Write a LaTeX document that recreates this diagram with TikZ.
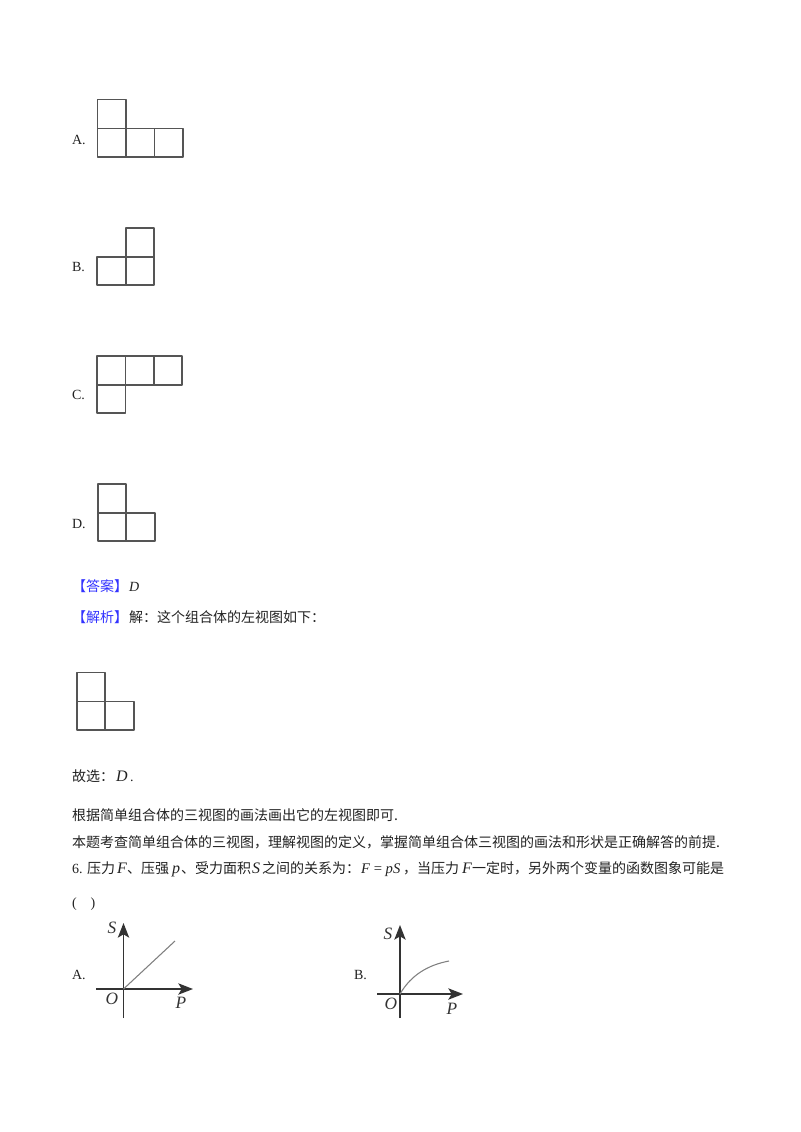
\documentclass[tikz,border=0pt]{standalone}
\usepackage{fontspec}
\setmainfont{Liberation Serif}
\newfontfamily\cjk{Noto Sans CJK SC}
\usetikzlibrary{arrows.meta}
\definecolor{inkgray}{HTML}{555555}
\definecolor{axisink}{HTML}{333333}
\definecolor{anskey}{HTML}{3333FF}
\definecolor{txt}{HTML}{222222}
\tikzset{
  cell/.style={draw=inkgray,line width=1.1pt,line join=round},
  lab/.style={anchor=base west,inner sep=0pt,outer sep=0pt,text=txt,font=\fontsize{10.5pt}{12pt}\selectfont},
  cn/.style={lab,font=\fontsize{10.5pt}{12pt}\selectfont\cjk},
  key/.style={cn,text=anskey},
  var/.style={lab,font=\fontsize{12pt}{14pt}\selectfont\itshape},
  axlab/.style={anchor=center,inner sep=0pt,text=axisink,font=\fontsize{13pt}{15pt}\selectfont\itshape},
  axis/.style={draw=axisink,line width=1.1pt},
  axisarrow/.style={axis,-{Stealth[length=11pt,width=8.5pt,inset=2.5pt]}},
  plotline/.style={draw=gray,line width=0.8pt},
}
\begin{document}
\begin{tikzpicture}[x=0.75pt,y=-0.75pt]
\useasboundingbox[fill=white] (0,0) rectangle (800,1132);
% option A
\node[lab] (la) at (72,144) {A.};
\draw[cell] (97.5,99.5) rectangle (126,128.5);
\draw[cell] (97.5,128.5) rectangle (126,157);
\draw[cell] (126,128.5) rectangle (154.5,157);
\draw[cell] (154.5,128.5) rectangle (183,157);
% option B
\node[lab] (lb) at (72,271) {B.};
\draw[cell] (126,228) rectangle (154,257);
\draw[cell] (97,257) rectangle (126,285);
\draw[cell] (126,257) rectangle (154,285);
% option C
\node[lab] (lc) at (72,399) {C.};
\draw[cell] (97,356) rectangle (125.5,385);
\draw[cell] (125.5,356) rectangle (154,385);
\draw[cell] (154,356) rectangle (182,385);
\draw[cell] (97,385) rectangle (125.5,413);
% option D
\node[lab] (ld) at (72,528) {D.};
\draw[cell] (98,484) rectangle (126,513);
\draw[cell] (98,513) rectangle (126,541);
\draw[cell] (126,513) rectangle (155,541);
% answer
\node[key] (k1) at (72,591) {【答案】};
\node[lab,font=\fontsize{10.5pt}{12pt}\selectfont\itshape] (k1v) at (129,591) {D};
\node[key] (k2) at (72,622) {【解析】};
\node[cn] (k2t) at (129,622) {解：这个组合体的左视图如下：};
% answer figure
\draw[cell] (77,672.5) rectangle (105,701.5);
\draw[cell] (77,701.5) rectangle (105,730);
\draw[cell] (105,701.5) rectangle (134,730);
% text
\node[cn] (t1) at (72,781) {故选：};
\node[var] (t1v) at (116,781) {D};
\node[lab] (t1d) at (130,781) {.};
\node[cn] (t2) at (72,820) {根据简单组合体的三视图的画法画出它的左视图即可.};
\node[cn] (t3) at (72,847) {本题考查简单组合体的三视图，理解视图的定义，掌握简单组合体三视图的画法和形状是正确解答的前提.};
% question 6
\node[lab] (q0) at (72,873) {6.};
\node[cn] (q1) at (87,873) {压力};
\node[var] (q2) at (117,873) {F};
\node[cn] (q3) at (127,873) {、压强};
\node[var] (q4) at (172,873) {p};
\node[cn] (q5) at (181,873) {、受力面积};
\node[var] (q6) at (252,873) {S};
\node[cn] (q7) at (262,873) {之间的关系为：};
\node[lab,font=\fontsize{11pt}{13pt}\selectfont] (q8) at (361,873) {\textit{F} = \textit{pS}};
\node[cn] (q9) at (403,873) {，当压力};
\node[var] (q10) at (462,873) {F};
\node[cn] (q11) at (472,873) {一定时，另外两个变量的函数图象可能是};
\node[lab] (q12) at (72,907) {(\hspace{1em})};
% graph A
\node[lab] (ga) at (72,979) {A.};
\coordinate (ao) at (123.5,989);
\coordinate (ayb) at (123.5,1018);
\coordinate (ayt) at (123.5,923);
\coordinate (axl) at (96,989);
\coordinate (axr) at (193,989);
\coordinate (ae) at (175,941);
\draw[axisarrow] (ayb) -- (ayt);
\draw[axisarrow] (axl) -- (axr);
\draw[plotline] (ao) -- (ae);
\node[axlab] (as) at (112,928) {S};
\node[axlab] (aO) at (112,999) {O};
\node[axlab] (aP) at (181,1003) {P};
% graph B
\node[lab] (gb) at (354,979) {B.};
\coordinate (bo) at (400,994);
\coordinate (byb) at (400,1018);
\coordinate (byt) at (400,925);
\coordinate (bxl) at (377,994);
\coordinate (bxr) at (463,994);
\coordinate (be) at (449,961);
\draw[axisarrow] (byb) -- (byt);
\draw[axisarrow] (bxl) -- (bxr);
\draw[plotline] (bo) .. controls (411,975) and (428,965) .. (be);
\node[axlab] (bs) at (388,934) {S};
\node[axlab] (bO) at (391,1004) {O};
\node[axlab] (bP) at (452,1009) {P};
\end{tikzpicture}
\end{document}
